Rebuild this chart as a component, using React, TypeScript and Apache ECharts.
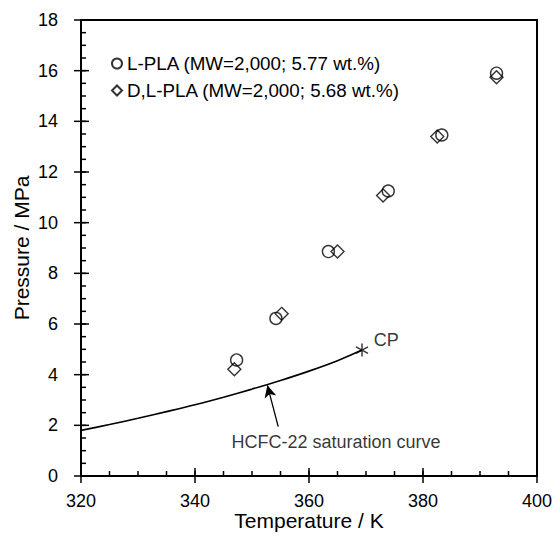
import React, { useEffect, useRef } from 'react';
import * as echarts from 'echarts';

// L-PLA (MW=2,000; 5.77 wt.%)
const lplaT = [347.3, 354.2, 363.4, 373.9, 383.3, 392.9];
const lplaP = [4.58, 6.22, 8.86, 11.25, 13.46, 15.9];
// D,L-PLA (MW=2,000; 5.68 wt.%)
const dlplaT = [346.9, 355.2, 365.0, 373.0, 382.5, 392.9];
const dlplaP = [4.21, 6.40, 8.86, 11.07, 13.40, 15.74];
// HCFC-22 saturation curve
const satT = [320, 325, 330, 335, 340, 345, 350, 355, 360, 365, 369.3];
const satP = [1.80, 2.03, 2.28, 2.54, 2.81, 3.11, 3.43, 3.77, 4.14, 4.55, 4.97];
// critical point
const cpT = [369.3];
const cpP = [4.97];
// annotation arrow (tail, head) and label anchor
const arrowT = [354.6, 352.7];
const arrowP = [1.95, 3.58];
const noteT = [346.4];
const noteP = [1.36];
// axes: labelled ticks and minor steps
const xTicks = [320, 340, 360, 380, 400];
const yTicks = [0, 2, 4, 6, 8, 10, 12, 14, 16, 18];
const xMinorStep = 5;
const yMinorStep = 0.5;

const seriesNames = ['L-PLA (MW=2,000; 5.77 wt.%)', 'D,L-PLA (MW=2,000; 5.68 wt.%)'];
const noteText = 'HCFC-22 saturation curve';
const cpText = 'CP';
const xName = 'Temperature / K';
const yName = 'Pressure / MPa';

const FONT = "'Liberation Sans', Arial, sans-serif";
const zip = (a: number[], b: number[]) => a.map((v, i) => [v, b[i]]);

const X_MIN = xTicks[0];
const X_MAX = xTicks[xTicks.length - 1];
const Y_MIN = yTicks[0];
const Y_MAX = yTicks[yTicks.length - 1];

export default function App() {
  const ref = useRef<HTMLDivElement>(null);
  useEffect(() => {
    if (!ref.current) return;
    const chart = echarts.init(ref.current, null, { renderer: 'svg' });
    const hollow = { color: 'rgba(0,0,0,0)', borderColor: '#000', borderWidth: 1.4 };
    const hidden = { axisLine: { show: false }, axisTick: { show: false }, axisLabel: { show: false }, splitLine: { show: false } };
    chart.setOption({
      animation: false,
      backgroundColor: 'transparent',
      grid: { left: 81, right: 16, top: 20, bottom: 60 },
      legend: {
        data: seriesNames, orient: 'vertical', left: 111, top: 54, padding: 0,
        itemWidth: 10, itemHeight: 10, itemGap: 8,
        textStyle: { fontSize: 18.8, lineHeight: 18, color: '#000', fontFamily: FONT },
      },
      xAxis: { type: 'value', min: X_MIN, max: X_MAX, interval: 20, ...hidden },
      yAxis: { type: 'value', min: Y_MIN, max: Y_MAX, interval: 2, ...hidden },
      series: [
        { name: seriesNames[0], type: 'scatter', symbol: 'circle', symbolSize: 12, itemStyle: hollow, data: zip(lplaT, lplaP), z: 3 },
        { name: seriesNames[1], type: 'scatter', symbol: 'diamond', symbolSize: 13, itemStyle: hollow, data: zip(dlplaT, dlplaP), z: 3 },
        {
          name: 'sat', type: 'line', smooth: 0.3, symbol: 'none',
          lineStyle: { color: '#000', width: 1.6 }, data: zip(satT, satP),
          markLine: {
            silent: true, symbol: ['none', 'arrow'], symbolSize: [9, 12],
            label: { show: false },
            lineStyle: { color: '#000', width: 1.3, type: 'solid' },
            data: [[{ coord: [arrowT[0], arrowP[0]] }, { coord: [arrowT[1], arrowP[1]] }]],
          },
        },
        {
          name: 'cp', type: 'scatter',
          symbol: 'path://M6,0 L6,14 M0,3.5 L12,10.5 M0,10.5 L12,3.5',
          symbolSize: [12, 13], itemStyle: { color: 'rgba(0,0,0,0)', borderColor: '#000', borderWidth: 1.5 },
          label: { show: true, formatter: cpText, position: 'right', distance: 5, offset: [0, -10], fontSize: 18, color: '#000', fontFamily: FONT },
          data: zip(cpT, cpP), z: 4,
        },
        {
          name: 'note', type: 'scatter', symbolSize: 0, silent: true,
          label: { show: true, formatter: noteText, position: 'right', distance: 0, fontSize: 18, color: '#000', fontFamily: FONT },
          data: zip(noteT, noteP),
        },
      ],
    });

    // frame, ticks, tick labels and axis names, placed through the chart's own scales
    const px = (x: number, y: number) => chart.convertToPixel({ gridIndex: 0 }, [x, y]) as number[];
    const [x0, y0] = px(X_MIN, Y_MIN);
    const [x1, y1] = px(X_MAX, Y_MAX);
    const line = (xa: number, ya: number, xb: number, yb: number, w = 1.5) => ({
      type: 'line', silent: true, z: 10,
      shape: { x1: xa, y1: ya, x2: xb, y2: yb },
      style: { stroke: '#000', lineWidth: w },
    });
    const txt = (text: string, x: number, y: number, align: string, valign: string, size: number, lh: number, rotation = 0) => ({
      type: 'text', x, y, rotation, silent: true, z: 10,
      style: { text, fill: '#000', fontSize: size, lineHeight: lh, fontFamily: FONT, align, verticalAlign: valign, textAlign: align, textVerticalAlign: valign },
    });
    const elements: any[] = [];
    // frame
    elements.push({
      type: 'rect', silent: true, z: 10,
      shape: { x: x0, y: y1, width: x1 - x0, height: y0 - y1 },
      style: { fill: 'none', stroke: '#000', lineWidth: 2 },
    });
    // x minor ticks (inside)
    for (let v = X_MIN + xMinorStep; v < X_MAX; v += xMinorStep) {
      const p = px(v, Y_MIN);
      elements.push(line(p[0], y0, p[0], y0 - 5));
    }
    // y minor ticks (inside)
    for (let v = Y_MIN + yMinorStep; v < Y_MAX; v += yMinorStep) {
      const p = px(X_MIN, v);
      elements.push(line(x0, p[1], x0 + 5, p[1]));
    }
    // major ticks (crossing) and labels
    xTicks.forEach((v) => {
      const p = px(v, Y_MIN);
      elements.push(line(p[0], y0 - 8, p[0], y0 + 7));
      elements.push(txt(String(v), p[0], y0 + 25, 'center', 'middle', 18, 16));
    });
    yTicks.forEach((v) => {
      const p = px(X_MIN, v);
      elements.push(line(x0 - 7, p[1], x0 + 8, p[1]));
      elements.push(txt(String(v), x0 - 23, p[1], 'right', 'middle', 18, 16));
    });
    elements.push(txt(xName, (x0 + x1) / 2, y0 + 44, 'center', 'middle', 21, 19));
    elements.push(txt(yName, x0 - 60, (y0 + y1) / 2, 'center', 'middle', 21, 19, Math.PI / 2));
    chart.setOption({ graphic: { elements } });

    return () => chart.dispose();
  }, []);
  return <div ref={ref} style={{ position: 'fixed', left: 0, top: 0, width: 553, height: 536, background: '#fff' }} />;
}
